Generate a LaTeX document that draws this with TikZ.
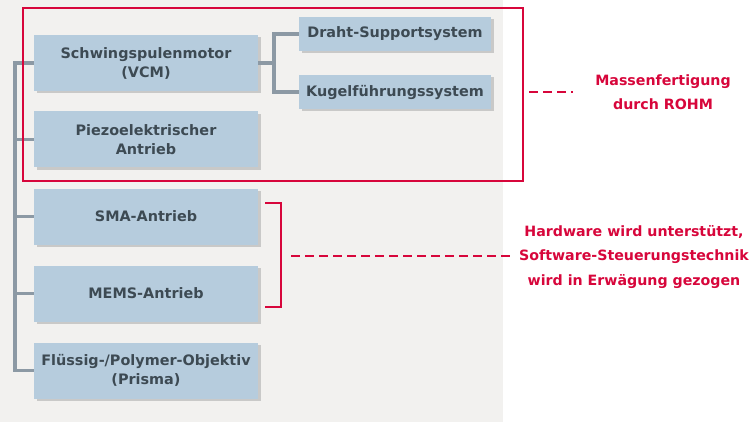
\documentclass[tikz,border=0pt]{standalone}
\usepackage{fontspec}
\setmainfont{DejaVu Sans}
\usetikzlibrary{shadows}

\definecolor{boxblue}{HTML}{B6CCDD}
\definecolor{boxtext}{HTML}{3D4A53}
\definecolor{rohmred}{HTML}{D7063B}
\definecolor{linegray}{HTML}{8C99A4}
\definecolor{panel}{HTML}{F2F1EF}

\tikzset{
    drive/.style={fill=boxblue, text=boxtext, font=\fontsize{14.4}{19}\selectfont\bfseries,
        align=center, inner sep=0pt, minimum width=224, minimum height=56,
        drop shadow={shadow xshift=2.5pt, shadow yshift=-2.5pt, fill=black!40, opacity=0.45}},
    guide/.style={drive, minimum width=192, minimum height=34},
    conn/.style={draw=linegray, line width=3.6},
    redline/.style={draw=rohmred, line width=2.8},
    reddash/.style={rohmred, line width=2.8, dash pattern=on 9pt off 5pt},
    note/.style={text=rohmred, align=center, font=\fontsize{14.2}{24.5}\selectfont\bfseries}
}

\begin{document}
\begin{tikzpicture}[x=1pt, y=-1pt]
    \useasboundingbox (0,0) rectangle (754,422);
    \fill[panel] (0,0) rectangle (503,422);

    % Aktoren
    \node[drive] (vcm)   at (146,63)    {Schwingspulenmotor\\(VCM)};
    \node[drive] (piezo) at (146,139.5) {Piezoelektrischer\\Antrieb};
    \node[drive] (sma)   at (146,216.5) {SMA-Antrieb};
    \node[drive] (mems)  at (146,293.5) {MEMS-Antrieb};
    \node[drive] (fluid) at (146,370.5) {Flüssig-/Polymer-Objektiv\\(Prisma)};

    % Fuehrungssysteme des VCM
    \node[guide] (draht) at (395,34) {Draht-Supportsystem};
    \node[guide] (kugel) at (395,92) {Kugelführungssystem};

    % Baumlinien
    \coordinate (trunk) at (15,0);
    \coordinate (fork) at (274,0);
    \draw[conn] (vcm.west) -- (vcm.west -| trunk) -- (fluid.west -| trunk) -- (fluid.west);
    \foreach \n in {piezo,sma,mems}
        \draw[conn] (\n.west -| trunk) -- (\n.west);
    \draw[conn] (vcm.east) -- (vcm.east -| fork);
    \draw[conn] (draht.west) -- (draht.west -| fork) -- (kugel.west -| fork) -- (kugel.west);

    % Massenfertigung
    \node[redline, minimum width=500, minimum height=173, inner sep=0pt] (mass) at (273,94.5) {};
    \node[note] (massnote) at (663,92) {Massenfertigung\\durch ROHM};
    \coordinate (m1) at (529,92);
    \coordinate (m2) at (573,92);
    \draw[reddash] (m1) -- (m2);

    % Hardware / Software
    \coordinate (b1) at (265,203);
    \coordinate (b2) at (265,307);
    \draw[redline] (b1) -- ++(16,0) -- ++(0,104) -- (b2);
    \node[note] (hwnote) at (634,257) {Hardware wird unterstützt,\\Software-Steuerungstechnik\\wird in Erwägung gezogen};
    \coordinate (h1) at (291,256);
    \coordinate (h2) at (512,256);
    \draw[reddash] (h1) -- (h2);
\end{tikzpicture}
\end{document}
